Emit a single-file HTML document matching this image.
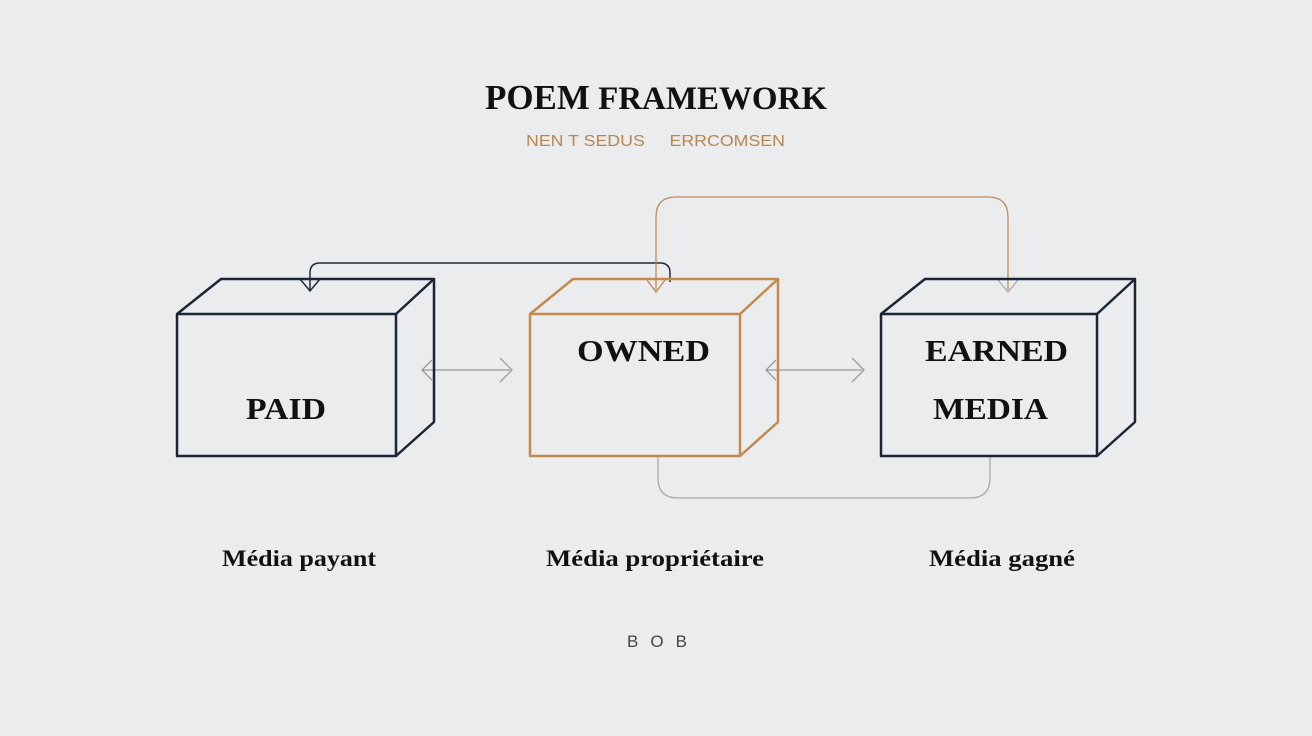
<!DOCTYPE html>
<html><head><meta charset="utf-8"><style>
html,body{margin:0;padding:0;background:#ebecee;}
svg{display:block}
</style></head><body>
<svg width="1312" height="736" viewBox="0 0 1312 736" xmlns="http://www.w3.org/2000/svg">
<rect width="1312" height="736" fill="#ebecee"/>
<text x="485" y="109" textLength="342" lengthAdjust="spacingAndGlyphs" font-family="Liberation Serif, serif" font-weight="bold" font-size="33" fill="#111"><tspan font-size="35">POEM</tspan> FRAMEWORK</text>
<text x="526" y="146" textLength="259" lengthAdjust="spacingAndGlyphs" font-family="Liberation Sans, sans-serif" font-size="16" fill="#b98650">NEN T SEDUS &#160;&#160;&#160; ERRCOMSEN</text>

<!-- connectors -->
<path d="M310 290 V273 Q310 263 320 263 H660 Q670 263 670 273 V282" fill="none" stroke="#1d2b3a" stroke-width="1.5"/>
<path d="M300 279 L310 291 L320 279" fill="none" stroke="#1d2b3a" stroke-width="1.5"/>
<path d="M656 290 V217 Q656 197 676 197 H988 Q1008 197 1008 217 V290" fill="none" stroke="#c08a55" stroke-width="1.3"/>
<path d="M647 280 L656 292 L665 280" fill="none" stroke="#c08a55" stroke-width="1.3"/>
<path d="M998 280 L1008 292 L1018 280" fill="none" stroke="#aaa" stroke-width="1.3"/>
<path d="M658 456 V478 Q658 498 678 498 H970 Q990 498 990 478 V456" fill="none" stroke="#aaa" stroke-width="1.3"/>
<path d="M422 370 H510 M500 358 L512 370 L500 382 M432 360 L422 370 L432 380" fill="none" stroke="#999" stroke-width="1.3"/>
<path d="M766 370 H862 M852 358 L864 370 L852 382 M776 360 L766 370 L776 380" fill="none" stroke="#999" stroke-width="1.3"/>

<g fill="none" stroke="#1a2636" stroke-width="2.5" stroke-linejoin="round">
<rect x="177" y="314" width="219" height="142"/>
<path d="M177 314 L221 279 H434 V422 L396 456 M396 314 L434 279"/>
</g>
<g fill="none" stroke="#c4894f" stroke-width="2.5" stroke-linejoin="round">
<rect x="530" y="314" width="210" height="142"/>
<path d="M530 314 L573 279 H778 V422 L740 456 M740 314 L778 279"/>
</g>
<g fill="none" stroke="#1a2636" stroke-width="2.5" stroke-linejoin="round">
<rect x="881" y="314" width="216" height="142"/>
<path d="M881 314 L925 279 H1135 V422 L1097 456 M1097 314 L1135 279"/>
</g>

<g font-family="Liberation Serif, serif" font-weight="bold" font-size="31" fill="#111" lengthAdjust="spacingAndGlyphs">
<text x="246" y="419" textLength="80" lengthAdjust="spacingAndGlyphs">PAID</text>
<text x="577" y="361" textLength="133" lengthAdjust="spacingAndGlyphs">OWNED</text>
<text x="925" y="361" textLength="143" lengthAdjust="spacingAndGlyphs">EARNED</text>
<text x="933" y="419" textLength="115" lengthAdjust="spacingAndGlyphs">MEDIA</text>
</g>
<g font-family="Liberation Serif, serif" font-weight="bold" font-size="23" fill="#111">
<text x="222" y="566" textLength="154" lengthAdjust="spacingAndGlyphs">Média payant</text>
<text x="546" y="566" textLength="218" lengthAdjust="spacingAndGlyphs">Média propriétaire</text>
<text x="929" y="566" textLength="146" lengthAdjust="spacingAndGlyphs">Média gagné</text>
</g>
<text x="627" y="647" textLength="60" lengthAdjust="spacing" font-family="Liberation Sans, sans-serif" font-size="17" fill="#444">BOB</text>
</svg>
</body></html>
